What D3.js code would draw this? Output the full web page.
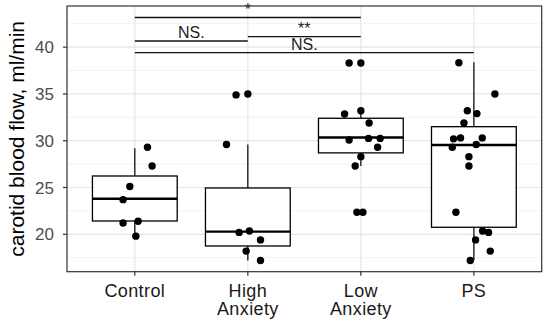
<!DOCTYPE html>
<html><head><meta charset="utf-8">
<script src="https://cdn.jsdelivr.net/npm/d3@7"></script>
<style>body{margin:0;background:#fff}svg{display:block}</style>
</head><body><svg id="c" width="550" height="324"></svg>
<script>
// ---- data ----
const categories = ["Control", "High\nAnxiety", "Low\nAnxiety", "PS"];
const boxQ1 = [21.42, 18.75, 28.7, 20.75];
const boxMedian = [23.8, 20.28, 30.35, 29.54];
const boxQ3 = [26.23, 24.95, 32.4, 31.5];
const whiskerLow = [19.8, 17.2, 27.3, 17.25];
const whiskerHigh = [29.2, 29.6, 33.2, 38.4];
// jittered points: group index, jittered x (category units), value
const controlPts = [[1.112, 29.3], [1.153, 27.3], [0.956, 25.1], [0.896, 23.7], [1.029, 21.4], [0.896, 21.2], [1.009, 19.8]];
const highPts = [[2.0, 35.0], [1.896, 34.9], [1.811, 29.6], [2.014, 20.35], [1.923, 20.2], [2.112, 19.4], [1.985, 18.2], [2.112, 17.2]];
const lowPts = [[2.896, 38.3], [3.0, 38.3], [3.0, 33.2], [2.856, 32.85], [3.073, 31.9], [3.068, 30.25], [3.171, 30.25], [2.896, 30.07], [3.148, 29.3], [3.0, 28.3], [2.95, 27.3], [2.965, 22.35], [3.018, 22.35]];
const psPts = [[3.867, 38.33], [4.186, 35.0], [3.942, 33.2], [4.027, 32.9], [3.912, 31.9], [3.882, 30.3], [3.82, 30.2], [4.074, 30.3], [4.021, 29.6], [3.809, 29.3], [3.956, 28.3], [3.956, 27.3], [3.841, 22.35], [4.077, 20.35], [4.13, 20.2], [4.015, 19.4], [4.145, 18.2], [3.968, 17.2]];
const yTicks = [20, 25, 30, 35, 40];
const yMinor = [17.5, 22.5, 27.5, 32.5, 37.5, 42.5];
const bracketFrom = [1, 2, 1, 1];
const bracketTo = [3, 3, 2, 4];
const bracketY = [43.17, 41.12, 40.66, 39.41];
const bracketLabel = ["*", "**", "NS.", "NS."];
const yTitle = "carotid blood flow, ml/min";

// ---- layout ----
const L = 67, T = 6, R = 541.7, B = 271.7;
const svg = d3.select("#c");
const x = d3.scaleLinear().domain([0.4, 4.6]).range([L, R]);
const y = d3.scaleLinear().domain([16.0, 44.4]).range([B, T]);
const bw = x(1.375) - x(1);

const font = "'Liberation Sans', Arial, sans-serif";

// grid
const g = svg.append("g");
g.selectAll(".mn").data(yMinor).join("line")
  .attr("x1", L).attr("x2", R).attr("y1", d => y(d)).attr("y2", d => y(d))
  .attr("stroke", "#f2f2f2").attr("stroke-width", 1);
g.selectAll(".mj").data(yTicks).join("line")
  .attr("x1", L).attr("x2", R).attr("y1", d => y(d)).attr("y2", d => y(d))
  .attr("stroke", "#e6e6e6").attr("stroke-width", 1.2);
g.selectAll(".vx").data(categories).join("line")
  .attr("x1", (d, i) => x(i + 1)).attr("x2", (d, i) => x(i + 1)).attr("y1", T).attr("y2", B)
  .attr("stroke", "#e6e6e6").attr("stroke-width", 1.2);

// boxes
const boxes = svg.append("g");
categories.forEach((c, i) => {
  const cx = x(i + 1);
  boxes.append("line").attr("x1", cx).attr("x2", cx)
    .attr("y1", y(boxQ3[i])).attr("y2", y(whiskerHigh[i])).attr("stroke", "#000").attr("stroke-width", 1.2);
  boxes.append("line").attr("x1", cx).attr("x2", cx)
    .attr("y1", y(boxQ1[i])).attr("y2", y(whiskerLow[i])).attr("stroke", "#000").attr("stroke-width", 1.2);
  boxes.append("rect").attr("x", cx - bw).attr("width", 2 * bw)
    .attr("y", y(boxQ3[i])).attr("height", y(boxQ1[i]) - y(boxQ3[i]))
    .attr("fill", "#fff").attr("stroke", "#000").attr("stroke-width", 1.3);
  boxes.append("line").attr("x1", cx - bw).attr("x2", cx + bw)
    .attr("y1", y(boxMedian[i])).attr("y2", y(boxMedian[i])).attr("stroke", "#000").attr("stroke-width", 2.4);
});

// points
const allPts = [].concat(controlPts, highPts, lowPts, psPts);
svg.append("g").selectAll("circle").data(allPts).join("circle")
  .attr("cx", d => x(d[0])).attr("cy", d => y(d[1])).attr("r", 3.7).attr("fill", "#000");

// brackets
const br = svg.append("g");
bracketY.forEach((v, i) => {
  br.append("line").attr("x1", x(bracketFrom[i])).attr("x2", x(bracketTo[i]))
    .attr("y1", y(v)).attr("y2", y(v)).attr("stroke", "#111").attr("stroke-width", 1.3);
  br.append("text").attr("x", (x(bracketFrom[i]) + x(bracketTo[i])) / 2).attr("y", y(v) - 2.6)
    .attr("text-anchor", "middle").attr("font-family", font).attr("font-size", 16)
    .attr("fill", "#222").text(bracketLabel[i]);
});

// panel border
svg.append("rect").attr("x", L).attr("y", T).attr("width", R - L).attr("height", B - T)
  .attr("fill", "none").attr("stroke", "#333").attr("stroke-width", 1.2);

// y axis
const ya = svg.append("g");
yTicks.forEach(t => {
  ya.append("line").attr("x1", L - 4).attr("x2", L).attr("y1", y(t)).attr("y2", y(t)).attr("stroke", "#333").attr("stroke-width", 1.2);
  ya.append("text").attr("x", L - 13).attr("y", y(t)).attr("dy", "0.36em").attr("text-anchor", "end")
    .attr("font-family", font).attr("font-size", 17).attr("fill", "#4d4d4d").text(t);
});
// x axis
const xa = svg.append("g");
categories.forEach((c, i) => {
  const cx = x(i + 1);
  xa.append("line").attr("x1", cx).attr("x2", cx).attr("y1", B).attr("y2", B + 4).attr("stroke", "#333").attr("stroke-width", 1.2);
  const t = xa.append("text").attr("text-anchor", "middle").attr("font-family", font).attr("font-size", 18)
    .attr("letter-spacing", 0.4).attr("fill", "#1a1a1a");
  c.split("\n").forEach((line, j) => {
    t.append("tspan").attr("x", cx).attr("y", 296.5 + j * 18.3).text(line);
  });
});
// y title
svg.append("text").attr("transform", `translate(23.5,${(T + B) / 2}) rotate(-90)`)
  .attr("text-anchor", "middle").attr("font-family", font).attr("font-size", 21).attr("fill", "#000")
  .text(yTitle);
</script></body></html>
